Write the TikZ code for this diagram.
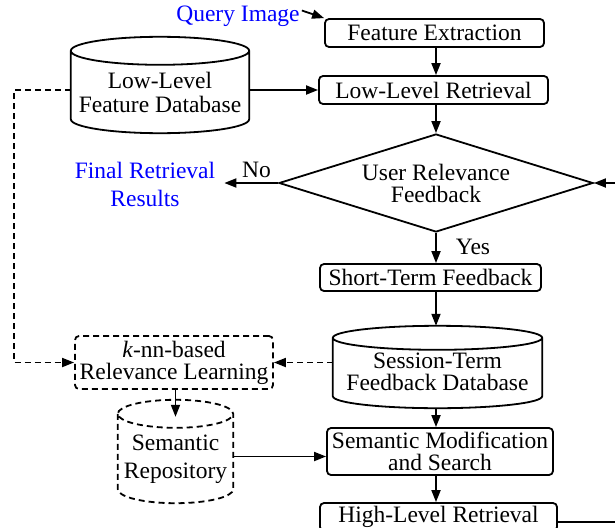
\documentclass[tikz,border=0pt]{standalone}
\usepackage{fontspec}
\setmainfont{Liberation Serif}
\usetikzlibrary{shapes.geometric,arrows.meta,calc}
\newcommand{\dbdraw}[3][]{%
 \draw[#1] let \p1=(#2.north west), \p2=(#2.south east), \n1={(\x2-\x1)/2} in
  (\x1,\y1-#3pt) -- (\x1,\y2+#3pt) arc[start angle=180,end angle=360,x radius=\n1,y radius=#3pt]
  -- (\x2,\y1-#3pt) arc[start angle=0,end angle=180,x radius=\n1,y radius=#3pt]
  arc[start angle=180,end angle=360,x radius=\n1,y radius=#3pt];}
\tikzset{
  lw/.style={line width=1.8pt},
  txt/.style={font=\fontsize{23.5pt}{22pt}\selectfont, align=center, inner sep=0pt},
  box/.style={txt, lw, draw, rounded corners=4pt},
  dbbox/.style={txt},
  arr/.style={lw, -{Triangle[length=12pt,width=9pt]}},
  dsh/.style={dash pattern=on 6pt off 4pt},
}
\begin{document}
\begin{tikzpicture}[x=1pt,y=-1pt]
\useasboundingbox (0,0) rectangle (615,527);
\clip (0,0) rectangle (615,527);
\coordinate (ax) at (436,0);
\coordinate (lx) at (14,0);
\coordinate (rx) at (640,0);

\node[txt, text=blue] (query) at (238,16) {Query Image};
\node[box, minimum width=219pt, minimum height=28pt] (fe) at (434.5,33) {Feature Extraction};
\node[box, minimum width=229pt, minimum height=28pt] (llr) at (433.5,90) {Low-Level Retrieval};
\node[dbbox, minimum width=178pt, minimum height=96pt] (lldb) at (160,85) {};
\dbdraw[lw]{lldb}{14}
\node[txt, font=\fontsize{23.5pt}{24pt}\selectfont] (lldbt) at (160,92) {Low-Level\\Feature Database};

\node[txt, draw, lw, diamond, minimum width=314pt, minimum height=98pt, aspect=3.2] (dia) at (436,183) {User Relevance\\Feedback};
\node[txt, text=blue, font=\fontsize{23.5pt}{28pt}\selectfont, inner xsep=9pt] (final) at (145,184) {Final Retrieval\\Results};

\node[box, minimum width=221pt, minimum height=27pt] (stf) at (430.5,277.5) {Short-Term Feedback};
\node[dbbox, minimum width=209pt, minimum height=82pt] (sess) at (437.5,367) {};
\dbdraw[lw]{sess}{12}
\node[txt] (sesst) at (437.5,372) {Session-Term\\Feedback Database};

\node[box, dsh, minimum width=198pt, minimum height=53pt] (knn) at (174,362.5) {\textit{k}-nn-based\\Relevance Learning};
\node[dbbox, minimum width=115pt, minimum height=103pt] (semrep) at (175.5,451.5) {};
\dbdraw[lw,dsh]{semrep}{14}
\node[txt, font=\fontsize{23.5pt}{28pt}\selectfont] (semrept) at (175.5,459) {Semantic\\Repository};

\node[box, minimum width=226pt, minimum height=47pt] (sm) at (440,451.5) {Semantic Modification\\and Search};
\node[box, minimum width=237pt, minimum height=28pt] (hl) at (438.5,517) {High-Level Retrieval};

% connectors
\draw[arr] ([xshift=2pt,yshift=-5pt]query.north east) -- (fe.north west);
\draw[arr] (ax |- fe.south) -- (ax |- llr.north);
\draw[arr] (llr.west -| lldb.east) -- (llr.west);
\draw[arr] (ax |- llr.south) -- (dia.north);
\draw[arr] (dia.west) -- node[txt, pos=0.4, above=4pt] (no) {No} (dia.west -| final.east);
\draw[arr] (dia.south) -- node[txt, pos=0.45, anchor=west, xshift=19pt] (yes) {Yes} (ax |- stf.north);
\draw[arr] (ax |- stf.south) -- (ax |- sess.north);
\draw[arr] (ax |- sess.south) -- (ax |- sm.north);
\draw[arr] (ax |- sm.south) -- (ax |- hl.north);
\draw[arr, dsh] ([yshift=-5pt]lldb.west) -| (lx |- knn.west) -- (knn.west);
\draw[arr, dsh] (knn.east -| sess.west) -- (knn.east);
\draw[arr] (semrep.north |- knn.south) -- ([yshift=-17pt]semrep.north);
\draw[arr] ([yshift=-5pt]semrep.east) -- ([yshift=-5pt]semrep.east -| sm.west);
\draw[arr] ([yshift=-5pt]hl.east) -| (rx |- dia.east) -- (dia.east);
\end{tikzpicture}
\end{document}
